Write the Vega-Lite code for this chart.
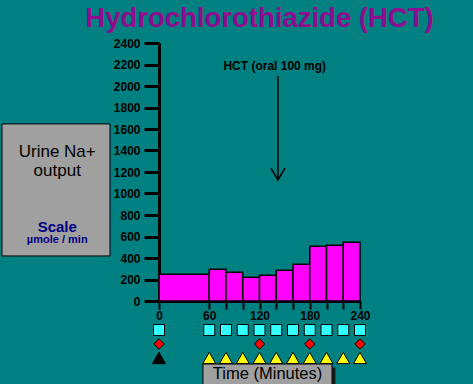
{
  "$schema": "https://vega.github.io/schema/vega-lite/v6.json",
  "width": 201,
  "height": 258,
  "autosize": {"type": "none"},
  "padding": {"left": 159, "top": 43, "right": 113, "bottom": 83},
  "background": "#008080",
  "title": {
    "text": "Hydrochlorothiazide (HCT)",
    "font": "Liberation Sans",
    "fontSize": 27.5,
    "fontWeight": "bold",
    "color": "#8E0C8E",
    "anchor": "middle",
    "frame": "group",
    "offset": 5
  },
  "config": {
    "font": "Liberation Sans",
    "view": {"stroke": null}
  },
  "datasets": {
    "bars": [
      {"t": 0, "t2": 60, "v": 250},
      {"t": 60, "t2": 80, "v": 295},
      {"t": 80, "t2": 100, "v": 267},
      {"t": 100, "t2": 120, "v": 220},
      {"t": 120, "t2": 140, "v": 240},
      {"t": 140, "t2": 160, "v": 286},
      {"t": 160, "t2": 180, "v": 341},
      {"t": 180, "t2": 200, "v": 509},
      {"t": 200, "t2": 220, "v": 518},
      {"t": 220, "t2": 240, "v": 546}
    ],
    "squares": [
      {"t": 0, "lane": 1}, {"t": 60, "lane": 1}, {"t": 80, "lane": 1}, {"t": 100, "lane": 1},
      {"t": 120, "lane": 1}, {"t": 140, "lane": 1}, {"t": 160, "lane": 1}, {"t": 180, "lane": 1},
      {"t": 200, "lane": 1}, {"t": 220, "lane": 1}, {"t": 240, "lane": 1}
    ],
    "diamonds": [
      {"t": 0, "lane": 2}, {"t": 120, "lane": 2}, {"t": 180, "lane": 2}, {"t": 240, "lane": 2}
    ],
    "triangles": [
      {"t": 0, "lane": 3, "kind": "start"},
      {"t": 60, "lane": 3, "kind": "sample"}, {"t": 80, "lane": 3, "kind": "sample"},
      {"t": 100, "lane": 3, "kind": "sample"}, {"t": 120, "lane": 3, "kind": "sample"},
      {"t": 140, "lane": 3, "kind": "sample"}, {"t": 160, "lane": 3, "kind": "sample"},
      {"t": 180, "lane": 3, "kind": "sample"}, {"t": 200, "lane": 3, "kind": "sample"},
      {"t": 220, "lane": 3, "kind": "sample"}, {"t": 240, "lane": 3, "kind": "sample"}
    ]
  },
  "encoding": {
    "x": {
      "field": "t", "type": "quantitative",
      "scale": {"domain": [0, 240], "nice": false, "zero": false},
      "axis": {
        "title": null,
        "values": [0, 60, 80, 100, 120, 140, 160, 180, 200, 220, 240],
        "labelExpr": "datum.value % 60 == 0 ? datum.label : ''",
        "domainColor": "black", "domainWidth": 3,
        "tickColor": "black", "tickWidth": 2, "tickSize": 8,
        "labelColor": "black", "labelFontSize": 12, "labelFontWeight": "bold",
        "labelPadding": 1, "labelFlush": false, "labelOverlap": false, "grid": false
      }
    }
  },
  "layer": [
    {
      "encoding": {
        "y": {
          "field": "v", "type": "quantitative",
          "scale": {"domain": [0, 2400], "nice": false},
          "axis": {
            "title": null,
            "values": [0, 200, 400, 600, 800, 1000, 1200, 1400, 1600, 1800, 2000, 2200, 2400],
            "format": "d",
            "domainColor": "black", "domainWidth": 3,
            "tickColor": "black", "tickWidth": 3, "tickSize": 15,
            "labelColor": "black", "labelFontSize": 12, "labelFontWeight": "bold",
            "labelPadding": 4, "labelFlush": false, "labelOverlap": false, "grid": false
          }
        }
      },
      "layer": [
        {
          "data": {"name": "bars"},
          "mark": {"type": "bar", "fill": "#FF00FF", "stroke": "black", "strokeWidth": 1.5},
          "encoding": {
            "x2": {"field": "t2"},
            "y2": {"datum": 0}
          }
        },
        {
          "data": {"values": [{"t": -187.5, "t2": -58.5, "v": 419, "v2": 1647}]},
          "mark": {"type": "rect", "fill": "#A0A0A0", "stroke": "black", "strokeWidth": 1},
          "encoding": {
            "x2": {"field": "t2"},
            "y2": {"field": "v2"}
          }
        },
        {
          "data": {"values": [
            {"t": -121.5, "v": 1389, "label": "Urine Na+"},
            {"t": -121.5, "v": 1209, "label": "output"}
          ]},
          "mark": {"type": "text", "fontSize": 17, "color": "black", "baseline": "middle", "align": "center"},
          "encoding": {
            "text": {"field": "label"}
          }
        },
        {
          "data": {"values": [{"t": -121.5, "v": 645, "label": "Scale"}]},
          "mark": {"type": "text", "fontSize": 15, "fontWeight": "bold", "color": "#000080", "baseline": "alphabetic", "align": "center"},
          "encoding": {
            "text": {"field": "label"}
          }
        },
        {
          "data": {"values": [{"t": -121.5, "v": 538, "label": "µmole / min"}]},
          "mark": {"type": "text", "fontSize": 11, "fontWeight": "bold", "color": "#000080", "baseline": "alphabetic", "align": "center"},
          "encoding": {
            "text": {"field": "label"}
          }
        },
        {
          "data": {"values": [{"t": 138.2, "v": 2186, "label": "HCT (oral 100 mg)"}]},
          "mark": {"type": "text", "fontSize": 12, "fontWeight": "bold", "color": "black", "baseline": "middle", "align": "center"},
          "encoding": {
            "text": {"field": "label"}
          }
        },
        {
          "data": {"values": [{"t": 142, "v": 2093, "v2": 1126}]},
          "mark": {"type": "rule", "color": "black", "strokeWidth": 1.5},
          "encoding": {
            "y2": {"field": "v2"}
          }
        },
        {
          "data": {"values": [{"t": 142, "v": 1126}]},
          "mark": {"type": "point", "shape": "M-1,-1.7L0,0L1,-1.7", "filled": false, "stroke": "black", "strokeWidth": 1.5, "size": 196, "opacity": 1},
          "encoding": {}
        }
      ]
    },
    {
      "encoding": {
        "y": {"field": "lane", "type": "quantitative", "axis": null, "scale": {"domain": [1, 3], "range": [287, 315], "nice": false, "zero": false}}
      },
      "layer": [
        {
          "data": {"name": "squares"},
          "mark": {"type": "point", "shape": "square", "filled": true, "fill": "#33FFFF", "stroke": "black", "strokeWidth": 1, "size": 121, "opacity": 1},
          "encoding": {}
        },
        {
          "data": {"name": "diamonds"},
          "mark": {"type": "point", "shape": "diamond", "filled": true, "fill": "#FF0000", "stroke": "black", "strokeWidth": 1, "size": 110, "opacity": 1},
          "encoding": {}
        },
        {
          "data": {"name": "triangles"},
          "mark": {"type": "point", "shape": "triangle-up", "filled": true, "stroke": "black", "strokeWidth": 1, "size": 170, "opacity": 1},
          "encoding": {
            "fill": {"field": "kind", "type": "nominal", "scale": {"domain": ["start", "sample"], "range": ["#000000", "#FFFF00"]}, "legend": null}
          }
        },
        {
          "data": {"values": [{"t": 56.1, "t2": 210.7, "lane": 3.68, "lane2": 5.3}]},
          "mark": {"type": "rect", "fill": "#1A1A1A"},
          "encoding": {
            "x2": {"field": "t2"},
            "y2": {"field": "lane2"}
          }
        },
        {
          "data": {"values": [{"t": 52.5, "t2": 206.6, "lane": 3.43, "lane2": 5.3}]},
          "mark": {"type": "rect", "fill": "#A0A0A0", "stroke": "black", "strokeWidth": 1},
          "encoding": {
            "x2": {"field": "t2"},
            "y2": {"field": "lane2"}
          }
        },
        {
          "data": {"values": [{"t": 129.6, "lane": 4.14, "label": "Time (Minutes)"}]},
          "mark": {"type": "text", "fontSize": 16.5, "color": "black", "baseline": "middle", "align": "center"},
          "encoding": {
            "text": {"field": "label"}
          }
        }
      ]
    }
  ],
  "resolve": {"scale": {"y": "independent"}}
}
